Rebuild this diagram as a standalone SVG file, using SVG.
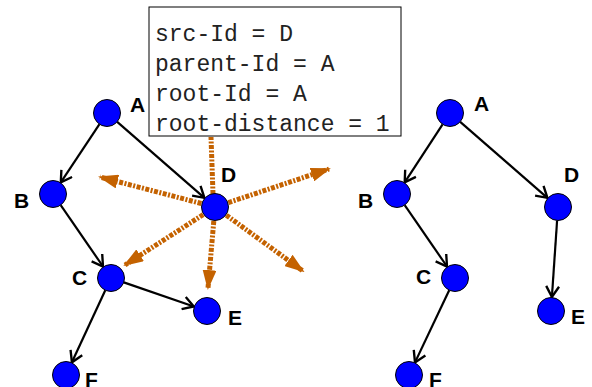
<svg xmlns="http://www.w3.org/2000/svg" width="592" height="387" viewBox="0 0 592 387">
<style>
.node{fill:#0000ff;stroke:#000;stroke-width:1}
.lbl{font-family:"Liberation Sans",Arial,sans-serif;font-weight:bold;font-size:21px;fill:#000}
.edge{stroke:#000;stroke-width:2.2;fill:none;marker-end:url(#open)}
.msg{stroke:#c46200;stroke-width:5;fill:none;stroke-dasharray:4 1.5 2 1.5}
.msga{marker-end:url(#tri)}
.mono{font-family:"Liberation Mono","Courier New",monospace;font-size:23px;fill:#222}
</style>
<defs>
<marker id="open" viewBox="0 0 14 14" refX="12" refY="7" markerWidth="15" markerHeight="15" markerUnits="userSpaceOnUse" orient="auto">
<path d="M2,1 L12,7 L2,13" fill="none" stroke="#000" stroke-width="2.2"/>
</marker>
<marker id="tri" viewBox="0 0 20 14" refX="18" refY="7" markerWidth="20" markerHeight="14" markerUnits="userSpaceOnUse" orient="auto">
<path d="M0,0 L20,7 L0,14 z" fill="#c46200"/>
</marker>
</defs>
<g id="connectors">
<line class="edge" x1="99.5" y1="124.2" x2="60.8" y2="182.4"/>
<line class="edge" x1="117.2" y1="121.9" x2="204.4" y2="197.8"/>
<line class="edge" x1="60.7" y1="205.1" x2="103" y2="266.5"/>
<line class="edge" x1="123.8" y1="282.4" x2="193.8" y2="306.5"/>
<line class="edge" x1="105.3" y1="290.2" x2="71.9" y2="362.3"/>
<line class="edge" x1="442.6" y1="124.3" x2="404.7" y2="182.3"/>
<line class="edge" x1="460.2" y1="121.9" x2="547.4" y2="197.8"/>
<line class="edge" x1="404.7" y1="205.1" x2="447" y2="266.5"/>
<line class="edge" x1="449.2" y1="290.2" x2="415" y2="362.4"/>
<line class="edge" x1="557.1" y1="220.5" x2="551.9" y2="297"/>
<line class="msg" x1="213" y1="194" x2="211" y2="137"/>
<line class="msg msga" x1="201.4" y1="203.5" x2="100" y2="177"/>
<line class="msg msga" x1="228.3" y1="202.6" x2="329" y2="169"/>
<line class="msg msga" x1="203.2" y1="214.6" x2="125" y2="265"/>
<line class="msg msga" x1="213.8" y1="221" x2="208" y2="288"/>
<line class="msg msga" x1="226.3" y1="215.2" x2="303" y2="271"/>
</g>
<g id="info">
<rect x="149" y="7" width="252" height="129" fill="#fff" stroke="#000" stroke-width="1"/>
<text class="mono" x="155" y="41">src-Id = D</text>
<text class="mono" x="155" y="71">parent-Id = A</text>
<text class="mono" x="155" y="101">root-Id = A</text>
<text class="mono" x="155" y="131">root-distance = 1</text>
</g>
<g id="L-A"><circle class="node" cx="107" cy="113" r="13.5"/><text class="lbl" x="130" y="112">A</text></g>
<g id="L-B"><circle class="node" cx="53" cy="194" r="13.5"/><text class="lbl" x="14" y="208">B</text></g>
<g id="L-C"><circle class="node" cx="111" cy="278" r="13.5"/><text class="lbl" x="72" y="285">C</text></g>
<g id="L-D"><circle class="node" cx="215" cy="207" r="13.5"/><text class="lbl" x="221" y="182">D</text></g>
<g id="L-E"><circle class="node" cx="207" cy="311" r="13.5"/><text class="lbl" x="228" y="325">E</text></g>
<g id="L-F"><circle class="node" cx="66" cy="375" r="13.5"/><text class="lbl" x="85" y="387">F</text></g>
<g id="R-A"><circle class="node" cx="450" cy="113" r="13.5"/><text class="lbl" x="474" y="111">A</text></g>
<g id="R-B"><circle class="node" cx="397" cy="194" r="13.5"/><text class="lbl" x="358" y="208">B</text></g>
<g id="R-C"><circle class="node" cx="455" cy="278" r="13.5"/><text class="lbl" x="416" y="284">C</text></g>
<g id="R-D"><circle class="node" cx="558" cy="207" r="13.5"/><text class="lbl" x="564" y="182">D</text></g>
<g id="R-E"><circle class="node" cx="551" cy="311" r="13.5"/><text class="lbl" x="571" y="324">E</text></g>
<g id="R-F"><circle class="node" cx="409" cy="375" r="13.5"/><text class="lbl" x="429" y="387">F</text></g>
</svg>
